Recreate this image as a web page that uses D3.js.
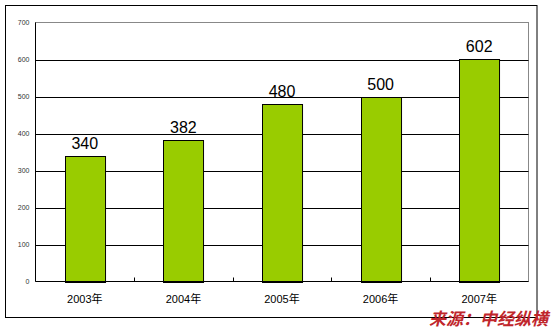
<!DOCTYPE html>
<meta charset="utf-8">
<style>
body { margin: 0; background: #fff; }
.ytick text { font: 7px "Liberation Sans", sans-serif; fill: #333; }
.xlabel { font: 11px "Liberation Sans", "Noto Sans CJK SC", sans-serif; fill: #000; text-anchor: middle; }
.vlabel { font: 16px "Liberation Sans", sans-serif; fill: #000; text-anchor: middle; }
.source { font: italic bold 17px "Noto Sans CJK SC", sans-serif; fill: #c0262c; }
</style>
<body>
<script src="https://cdn.jsdelivr.net/npm/d3@7"></script>
<script>

var years = ["2003年", "2004年", "2005年", "2006年", "2007年"];
var values = [340, 382, 480, 500, 602];
var yTicks = [0, 100, 200, 300, 400, 500, 600, 700];

var width = 553,
    height = 331;

var svg = d3.select("body").append("svg")
    .attr("width", width)
    .attr("height", height);

// outer frame
svg.append("rect")
    .attr("x", 5.5).attr("y", 5.5)
    .attr("width", 531.5).attr("height", 312)
    .attr("fill", "none")
    .attr("stroke", "#000");

var pLeft = 35.5, pRight = 528.5, pTop = 22.5, pBottom = 281.5;

var x = d3.scaleBand()
    .domain(years)
    .range([pLeft, pRight])
    .paddingInner(0.594)
    .paddingOuter(0.297);

var xCat = d3.scaleBand().domain(years).range([pLeft, pRight]);

var y = d3.scaleLinear()
    .domain([0, 700])
    .range([pBottom, pTop]);

// plot area border (grey)
svg.append("rect")
    .attr("x", pLeft).attr("y", pTop)
    .attr("width", pRight - pLeft).attr("height", pBottom - pTop)
    .attr("fill", "none")
    .attr("stroke", "#888");

// gridlines
svg.selectAll(".grid")
    .data(yTicks.filter(function(d) { return d > 0 && d < 700; }))
  .enter().append("line")
    .attr("x1", pLeft).attr("x2", pRight)
    .attr("y1", function(d) { return Math.round(y(d)) + 0.5; })
    .attr("y2", function(d) { return Math.round(y(d)) + 0.5; })
    .attr("stroke", "#000");

// y axis
var yAxis = svg.append("g")
    .attr("class", "ytick")
    .attr("transform", "translate(" + pLeft + ",0)")
    .call(d3.axisLeft(y).tickValues(yTicks).tickSize(0).tickPadding(6));
yAxis.select(".domain").remove();

// bars
svg.selectAll(".bar")
    .data(values)
  .enter().append("rect")
    .attr("x", function(d, i) { return Math.round(x(years[i])) + 0.5; })
    .attr("y", function(d) { return Math.round(y(d)) + 0.5; })
    .attr("width", x.bandwidth())
    .attr("height", function(d) { return Math.round(y(0)) - Math.round(y(d)); })
    .attr("fill", "#99cc00")
    .attr("stroke", "#000");

// axis lines and ticks
svg.append("line")
    .attr("x1", pLeft).attr("x2", pRight)
    .attr("y1", pBottom).attr("y2", pBottom)
    .attr("stroke", "#000");
svg.append("line")
    .attr("x1", pLeft).attr("x2", pLeft)
    .attr("y1", pTop).attr("y2", pBottom)
    .attr("stroke", "#000");

svg.selectAll(".xtick")
    .data(years.slice(1))
  .enter().append("line")
    .attr("x1", function(d) { return Math.round(xCat(d)) + 0.5; })
    .attr("x2", function(d) { return Math.round(xCat(d)) + 0.5; })
    .attr("y1", pBottom).attr("y2", pBottom - 4)
    .attr("stroke", "#000");

// x labels
svg.selectAll(".xlabel")
    .data(years)
  .enter().append("text")
    .attr("class", "xlabel")
    .attr("x", function(d) { return xCat(d) + xCat.bandwidth() / 2; })
    .attr("y", 303)
    .text(function(d) { return d; });

// value labels
svg.selectAll(".vlabel")
    .data(values)
  .enter().append("text")
    .attr("class", "vlabel")
    .attr("x", function(d, i) { return x(years[i]) + x.bandwidth() / 2; })
    .attr("y", function(d) { return y(d) - 7; })
    .text(function(d) { return d; });

// source
svg.append("text")
    .attr("class", "source")
    .attr("x", 429)
    .attr("y", 325)
    .text("来源：中经纵横");

</script>
